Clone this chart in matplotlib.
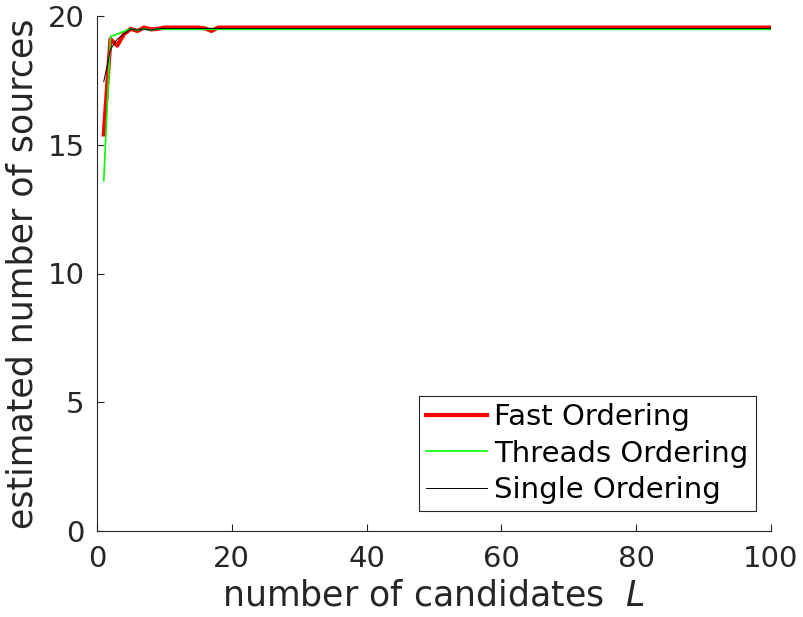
import matplotlib.pyplot as plt

# number of candidates L (curves are flat after L=20)
L = [1, 2, 3, 4, 5, 6, 7, 8, 9, 10, 11, 12, 13, 14, 15, 16, 17, 18, 19, 20, 100]

fast = [15.4, 19.1, 18.85, 19.3, 19.5, 19.42, 19.55, 19.48, 19.5, 19.55,
        19.55, 19.55, 19.55, 19.55, 19.55, 19.52, 19.42, 19.55, 19.55, 19.55, 19.55]
threads = [13.6, 19.2, 19.3, 19.4, 19.5, 19.45, 19.5, 19.45, 19.5, 19.48,
           19.48, 19.48, 19.48, 19.48, 19.48, 19.48, 19.48, 19.48, 19.48, 19.48, 19.48]
single = [17.45, 18.7, 19.1, 19.3, 19.5, 19.45, 19.5, 19.45, 19.5, 19.52,
          19.52, 19.52, 19.52, 19.52, 19.52, 19.52, 19.52, 19.52, 19.52, 19.52, 19.52]

grey = '#262626'
W, H = 804, 617

fig = plt.figure(figsize=(W/100, H/100), dpi=100)
ax = fig.add_axes([97/W, 1 - 531/H, (771-97)/W, (531-16)/H])

ax.plot(L, fast, color=(1, 0, 0), lw=3, label='Fast Ordering')
ax.plot(L, threads, color=(0, 1, 0), lw=1.2, label='Threads Ordering')
ax.plot(L, single, color='black', lw=0.7, label='Single Ordering')

ax.set_xlim(0, 100)
ax.set_ylim(0, 20)
ax.set_xticks([0, 20, 40, 60, 80, 100])
ax.set_yticks([0, 5, 10, 15, 20])

for s in ['top', 'right']:
    ax.spines[s].set_visible(False)
for s in ['left', 'bottom']:
    ax.spines[s].set_color(grey)
    ax.spines[s].set_linewidth(0.8)
ax.tick_params(direction='in', length=5, colors=grey, labelsize=21)
ax.tick_params(axis='x', pad=10)
ax.tick_params(axis='y', pad=9)

ax.set_xlabel('number of candidates  $\\mathit{L}$', fontsize=25, color=grey, labelpad=4)
ax.set_ylabel('estimated number of sources', fontsize=25, color=grey, labelpad=6)

leg = ax.legend(loc='lower right', bbox_to_anchor=(756/W, 1 - 511/H),
                bbox_transform=fig.transFigure, borderaxespad=0,
                fontsize=21, fancybox=False, framealpha=1,
                edgecolor=grey, handlelength=2.1, labelspacing=0.28,
                handletextpad=0.25, borderpad=0.25)
leg.get_frame().set_linewidth(0.8)

fig.savefig('out.png', dpi=100)
